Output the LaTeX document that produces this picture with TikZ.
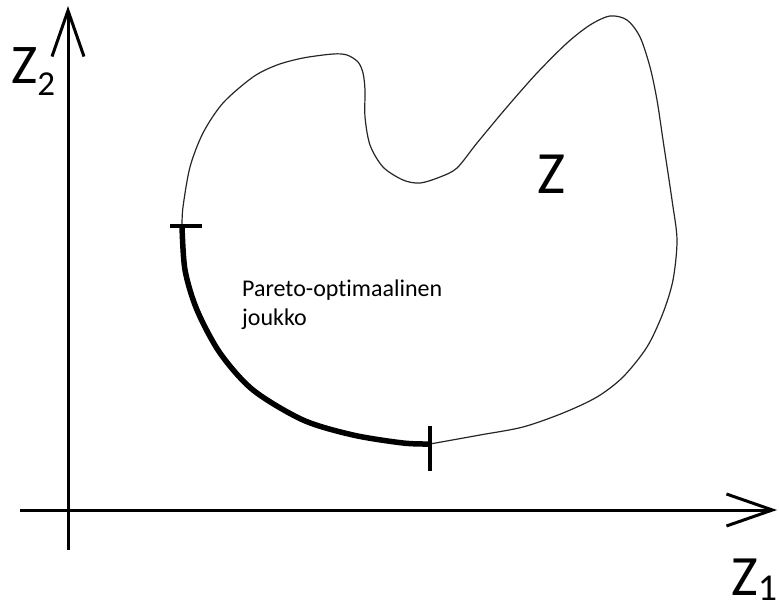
\documentclass[tikz,border=0pt]{standalone}
\usepackage{fontspec}
\setmainfont{Carlito}[Ligatures=NoCommon]
\usepackage{tikz}
\usetikzlibrary{positioning, arrows.meta, calc}

\begin{document}
\begin{tikzpicture}[
        x=1pt, y=-1pt,
        axis/.style={line width=3pt, -{Straight Barb[length=46pt, width=32pt, line width=3pt]}},
        border/.style={line width=1.2pt, black!85},
        front/.style={line width=5.5pt, line cap=butt},
        tick/.style={line width=3.6pt},
        biglbl/.style={inner sep=0pt, anchor=base west}
    ]
        \useasboundingbox (0,0) rectangle (779,608);

        % axes
        \coordinate (xa) at (20,510);
        \coordinate (xb) at (777,510);
        \coordinate (ya) at (68,550);
        \coordinate (yb) at (68,6);
        \draw[axis] (xa) -- (xb);
        \draw[axis] (ya) -- (yb);

        \node[biglbl] (z2) at (11,83) {\fontsize{56}{60}\selectfont Z\raisebox{-12pt}{\fontsize{35}{40}\selectfont 2}};
        \node[biglbl] (z1) at (731,595) {\fontsize{57}{60}\selectfont Z\raisebox{-5pt}{\fontsize{38}{40}\selectfont 1}};

        % the set Z
        \draw[border] plot[smooth] coordinates {
            (430,444) (480,435) (523,427) (563,413) (597,397) (623,377)
            (647,347) (663,313) (673,280) (677,240) (672,200) (663,140)
            (657,100) (650,67) (640,37) (627,20) (610,16) (590,25)
            (567,43) (537,73) (507,107) (477,143) (457,168) (440,177)
            (420,183) (403,180) (383,167) (370,145) (365,117) (365,90)
            (363,73) (358,62) (347,55) (333,54) (303,58) (277,65)
            (253,77) (223,103) (203,133) (190,167) (183,207) (182,226)};

        % Pareto front
        \draw[front] plot[smooth] coordinates {
            (182,226) (185,270) (197,310) (220,353) (253,390)
            (303,420) (353,435) (403,443) (430,444)};

        \coordinate (ta) at (182,226);
        \coordinate (tb) at (430,444);
        \draw[tick] ($(ta)+(-12,0)$) -- ($(ta)+(20,0)$);
        \draw[tick] ($(tb)+(0,-18)$) -- ($(tb)+(0,27)$);

        \node[biglbl] (zset) at (537,193) {\fontsize{60}{64}\selectfont Z};
        \node[biglbl, align=left, font=\fontsize{24}{29}\selectfont] (front) at (242,325)
            {Pareto-optimaalinen\\joukko};
    \end{tikzpicture}
\end{document}
